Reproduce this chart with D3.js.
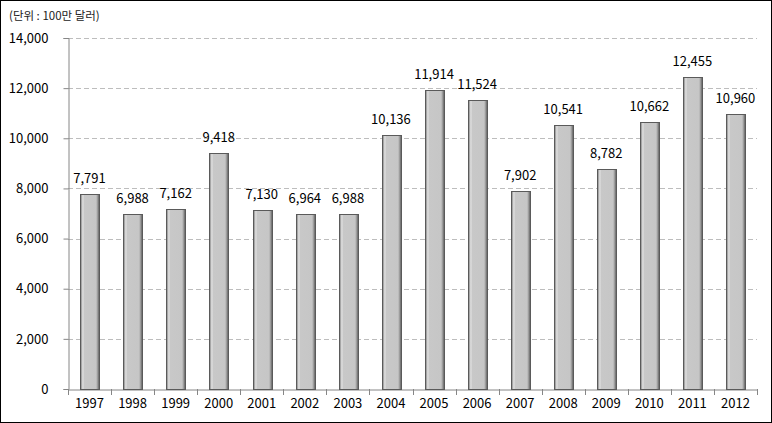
<!DOCTYPE html>
<html><head><meta charset="utf-8">
<script src="https://cdn.jsdelivr.net/npm/d3@7"></script>
<style>body{margin:0;background:#fff}svg{display:block}</style>
</head><body>
<svg id="c" width="772" height="423"></svg>
<script>
const categories = ["1997","1998","1999","2000","2001","2002","2003","2004","2005","2006","2007","2008","2009","2010","2011","2012"];
const values = [7791,6988,7162,9418,7130,6964,6988,10136,11914,11524,7902,10541,8782,10662,12455,10960];
const yTicks = [0,2000,4000,6000,8000,10000,12000,14000];
const unitLabel = "(단위 : 100만 달러)";

(function(){
const svg = d3.select("#c");
const font = "'Noto Sans CJK KR', 'DejaVu Sans', sans-serif";
svg.append("rect").attr("x",0.5).attr("y",0.5).attr("width",771).attr("height",422)
  .attr("fill","#fff").attr("stroke","#000");

const pl = 68, pr = 757, pt = 38, pb = 389;
const x = d3.scaleBand().domain(categories).range([pl,pr]).paddingInner(0.57).paddingOuter(0.285);
const y = d3.scaleLinear().domain([0,14000]).range([pb,pt]);

const defs = svg.append("defs");
const g = defs.append("linearGradient").attr("id","bg").attr("x1","0").attr("x2","1");
g.append("stop").attr("offset","0").attr("stop-color","#777");
g.append("stop").attr("offset","0.12").attr("stop-color","#e2e2e2");
g.append("stop").attr("offset","0.2").attr("stop-color","#c8c8c8");
g.append("stop").attr("offset","0.82").attr("stop-color","#c6c6c6");
g.append("stop").attr("offset","0.9").attr("stop-color","#9a9a9a");
g.append("stop").attr("offset","1").attr("stop-color","#555");

// grid
svg.append("g").selectAll("line").data(yTicks.filter(d=>d>0)).join("line")
  .attr("x1",pl).attr("x2",pr).attr("y1",d=>Math.round(y(d))+0.5).attr("y2",d=>Math.round(y(d))+0.5)
  .attr("stroke","#bdbdbd").attr("stroke-dasharray","5,3");

// y axis
const ya = svg.append("g").attr("transform",`translate(${pl+0.5},0)`)
  .call(d3.axisLeft(y).tickValues(yTicks).tickSize(5).tickFormat(d3.format(",")));
ya.select(".domain").attr("stroke","#868686");
ya.selectAll(".tick line").attr("stroke","#868686");
ya.selectAll(".tick text").attr("font-family",font).attr("font-size",13).attr("fill","#000").attr("x",-20);

// x axis
const xa = svg.append("g").attr("transform",`translate(0,${pb+0.5})`)
  .call(d3.axisBottom(x).tickSize(0).tickSizeOuter(0));
xa.select(".domain").attr("stroke","#868686");
xa.selectAll(".tick text").attr("font-family",font).attr("font-size",13).attr("fill","#000").attr("dy","1.2em");
const bounds = categories.map((c,i)=>pl + i*(pr-pl)/categories.length).concat([pr]);
svg.append("g").selectAll("line").data(bounds).join("line")
  .attr("x1",d=>Math.round(d)+0.5).attr("x2",d=>Math.round(d)+0.5).attr("y1",pb).attr("y2",pb+6)
  .attr("stroke","#868686");

// bars
svg.append("g").selectAll("rect").data(values).join("rect")
  .attr("x",(d,i)=>Math.round(x(categories[i]))+0.5)
  .attr("y",d=>Math.round(y(d))+0.5)
  .attr("width",Math.round(x.bandwidth()))
  .attr("height",d=>pb-Math.round(y(d)))
  .attr("fill","url(#bg)").attr("stroke","#5a5a5a");

// labels
svg.append("g").selectAll("text").data(values).join("text")
  .attr("x",(d,i)=>x(categories[i])+x.bandwidth()/2)
  .attr("y",d=>y(d)-11)
  .attr("text-anchor","middle").attr("font-family",font).attr("font-size",13).attr("fill","#000")
  .text(d=>d3.format(",")(d));

svg.append("text").attr("x",9).attr("y",20).attr("font-family",font).attr("font-size",11.5)
  .attr("fill","#222").text(unitLabel);
})();
</script>
</body></html>
